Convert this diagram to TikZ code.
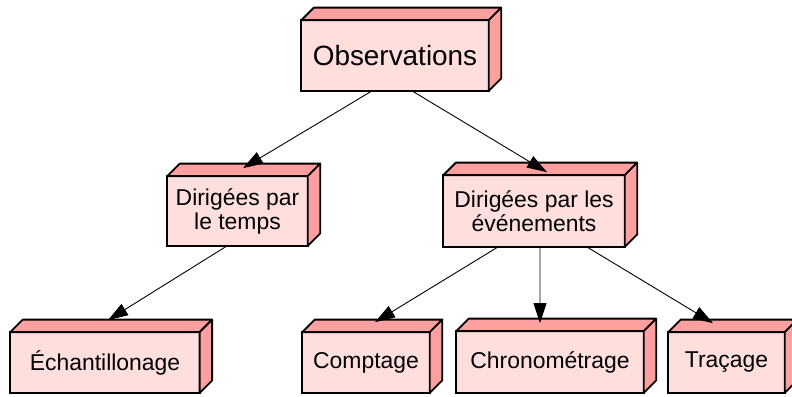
\documentclass[tikz,border=0pt]{standalone}
\usepackage{fontspec}
\setmainfont{Liberation Sans}
\usetikzlibrary{arrows.meta}
\definecolor{faceavant}{RGB}{255,222,222}
\definecolor{facecote}{RGB}{255,160,160}
\tikzset{
  boite/.style={draw, line width=1.8bp, fill=faceavant, inner sep=0pt, outer sep=0pt,
    align=center, font=\fontsize{23}{24}\selectfont},
  cote/.style={draw, line width=1.8bp, fill=facecote, line join=round},
  fleche/.style={line width=0.9bp, -{Triangle[length=20bp,width=13bp]}}
}
% faces du dessus et de droite d'une boite
\newcommand{\relief}[1]{
\filldraw[cote] (#1.north west) -- ++(12.5,12.5) -- ([shift={(12.5,12.5)}]#1.north east) -- (#1.north east) -- cycle;
\filldraw[cote] (#1.north east) -- ++(12.5,12.5) -- ([shift={(12.5,12.5)}]#1.south east) -- (#1.south east) -- cycle;
}
\begin{document}
\begin{tikzpicture}[x=1bp,y=1bp]
\useasboundingbox (0,0) rectangle (792,396);

\node[boite,minimum width=188,minimum height=71,font=\fontsize{28}{30}\selectfont] (obs) at (395,340.5) {Observations};
\relief{obs}
\node[boite,minimum width=141,minimum height=70] (temps) at (237.5,185) {Dirigées par\\le temps};
\relief{temps}
\node[boite,minimum width=182,minimum height=72] (evt) at (534,185) {Dirigées par les\\événements};
\relief{evt}

\node[boite,minimum width=190,minimum height=61] (ech) at (105,33.5) {Échantillonage};
\relief{ech}
\node[boite,minimum width=128,minimum height=61] (compt) at (366,33.5) {Comptage};
\relief{compt}
\node[boite,minimum width=188,minimum height=62] (chrono) at (550,34) {Chronométrage};
\relief{chrono}
\node[boite,minimum width=117,minimum height=61] (trac) at (726.5,33.5) {Traçage};
\relief{trac}

\draw[fleche] ([xshift=-23]obs.south) -- ([shift={(5.5,8)}]temps.north);
\draw[fleche] ([xshift=17]obs.south) -- ([shift={(13,3)}]evt.north);
\draw[fleche] ([xshift=-10.5]temps.south) -- ([shift={(3,12)}]ech.north);
\draw[fleche] ([xshift=-36]evt.south) -- ([shift={(9,10)}]compt.north);
\draw[fleche] ([xshift=6]evt.south) -- ([shift={(-10,8)}]chrono.north);
\draw[fleche] ([xshift=53]evt.south) -- ([shift={(-13.5,9)}]trac.north);

\end{tikzpicture}
\end{document}
